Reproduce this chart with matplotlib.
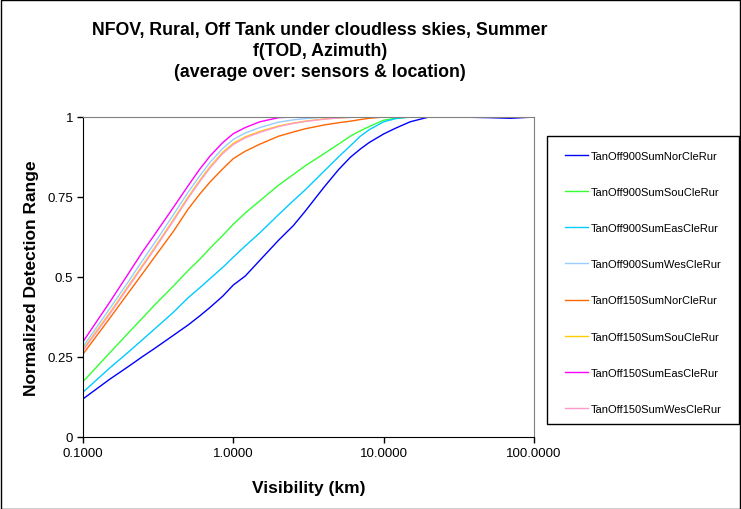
import matplotlib
matplotlib.use("Agg")
import matplotlib.pyplot as plt
import numpy as np
from matplotlib.patches import Rectangle
from matplotlib.ticker import FixedLocator, FixedFormatter

plt.rcParams['font.family'] = ['Liberation Sans', 'DejaVu Sans']

# visibility (km)
vis = [0.1, 0.15, 0.2, 0.25, 0.3, 0.4, 0.5, 0.6, 0.7, 0.85, 1, 1.2, 1.5, 2, 2.5,
       3, 4, 5, 6, 7, 8, 10, 12, 15, 20, 30, 50, 70, 100]

# normalized detection range per case
nor900 = [0.119, 0.18, 0.22, 0.252, 0.277, 0.318, 0.35, 0.379, 0.405, 0.44, 0.475, 0.503, 0.552, 0.615, 0.66,
          0.705, 0.78, 0.835, 0.874, 0.90, 0.92, 0.947, 0.965, 0.985, 1.0, 1.0, 0.998, 0.996, 1.0]
sou900 = [0.173, 0.262, 0.325, 0.373, 0.413, 0.472, 0.52, 0.556, 0.59, 0.63, 0.665, 0.70, 0.738, 0.787, 0.82,
          0.847, 0.885, 0.915, 0.94, 0.957, 0.97, 0.99, 0.996, 1.0, 1.0, 1.0, 1.0, 1.0, 1.0]
eas900 = [0.140, 0.215, 0.265, 0.305, 0.338, 0.39, 0.435, 0.467, 0.495, 0.53, 0.562, 0.597, 0.638, 0.695, 0.738,
          0.772, 0.83, 0.875, 0.91, 0.94, 0.96, 0.985, 0.995, 1.0, 1.0, 1.0, 1.0, 1.0, 1.0]
wes900 = [0.282, 0.40, 0.485, 0.553, 0.607, 0.695, 0.765, 0.817, 0.858, 0.902, 0.93, 0.95, 0.967, 0.984, 0.991,
          0.995, 0.999, 1.0, 1.0, 1.0, 1.0, 1.0, 1.0, 1.0, 1.0, 1.0, 1.0, 1.0, 1.0]
nor150 = [0.259, 0.37, 0.45, 0.512, 0.563, 0.643, 0.712, 0.76, 0.797, 0.838, 0.87, 0.893, 0.915, 0.94, 0.953,
          0.963, 0.975, 0.982, 0.987, 0.992, 0.996, 1.0, 1.0, 1.0, 1.0, 1.0, 1.0, 1.0, 1.0]
sou150 = [0.274, 0.387, 0.472, 0.538, 0.592, 0.68, 0.75, 0.803, 0.845, 0.89, 0.918, 0.938, 0.955, 0.972, 0.981,
          0.987, 0.994, 0.997, 0.999, 1.0, 1.0, 1.0, 1.0, 1.0, 1.0, 1.0, 1.0, 1.0, 1.0]
eas150 = [0.298, 0.42, 0.51, 0.58, 0.633, 0.718, 0.785, 0.838, 0.878, 0.92, 0.948, 0.967, 0.985, 0.998, 1.0,
          1.0, 1.0, 1.0, 1.0, 1.0, 1.0, 1.0, 1.0, 1.0, 1.0, 1.0, 1.0, 1.0, 1.0]
wes150 = [0.270, 0.383, 0.468, 0.534, 0.588, 0.676, 0.746, 0.799, 0.841, 0.886, 0.914, 0.935, 0.952, 0.97, 0.98,
          0.986, 0.993, 0.997, 0.999, 1.0, 1.0, 1.0, 1.0, 1.0, 1.0, 1.0, 1.0, 1.0, 1.0]

series = [
    ("TanOff900SumNorCleRur", nor900, "#0000FF"),
    ("TanOff900SumSouCleRur", sou900, "#33FF33"),
    ("TanOff900SumEasCleRur", eas900, "#00CCFF"),
    ("TanOff900SumWesCleRur", wes900, "#99CCFF"),
    ("TanOff150SumNorCleRur", nor150, "#FF6600"),
    ("TanOff150SumSouCleRur", sou150, "#FFCC00"),
    ("TanOff150SumEasCleRur", eas150, "#FF00FF"),
    ("TanOff150SumWesCleRur", wes150, "#FF99CC"),
]

fig = plt.figure(figsize=(7.41, 5.10), dpi=100)
ax = fig.add_axes([83/741, 72/510, 451/741, 320/510])

handles = []
for name, vals, col in series:
    h, = ax.plot(vis, vals, color=col, lw=1.0, label=name)
    handles.append(h)

ax.set_xscale('log')
ax.set_xlim(0.1, 100)
ax.set_ylim(0, 1)
ax.xaxis.set_major_locator(FixedLocator([0.1, 1, 10, 100]))
ax.xaxis.set_major_formatter(FixedFormatter(["0.1000", "1.0000", "10.0000", "100.0000"]))
ax.xaxis.set_minor_locator(FixedLocator([]))
ax.set_yticks([0, 0.25, 0.5, 0.75, 1])
ax.set_yticklabels(["0", "0.25", "0.5", "0.75", "1"])
ax.tick_params(axis='both', labelsize=9.5, length=4, width=1, direction='out', pad=3)

for s in ['left', 'bottom']:
    ax.spines[s].set_color('black')
for s in ['top', 'right']:
    ax.spines[s].set_color('#808080')

ax.set_xlabel("Visibility (km)", fontsize=12.5, fontweight='bold', labelpad=15)
ax.set_ylabel("Normalized Detection Range", fontsize=12.5, fontweight='bold', labelpad=6)

fig.text(320/741, 1 - 31/510, "NFOV, Rural, Off Tank under cloudless skies, Summer",
         ha='center', va='center', fontsize=12.75, fontweight='bold')
fig.text(320/741, 1 - 52/510, "f(TOD, Azimuth)",
         ha='center', va='center', fontsize=12.75, fontweight='bold')
fig.text(320/741, 1 - 73/510, "(average over: sensors & location)",
         ha='center', va='center', fontsize=12.75, fontweight='bold')

# legend box
fig.patches.append(Rectangle((547/741, 1 - 425/510), 192/741, 288/510,
                             transform=fig.transFigure, fill=False,
                             edgecolor='black', lw=1))
fig.legend(handles=handles, loc='upper left', bbox_to_anchor=(565/741, 1 - 152/510),
           frameon=False, fontsize=8, labelspacing=2.35, handlelength=2.1,
           handletextpad=0.25, borderpad=0, borderaxespad=0)

# outer chart border
fig.patches.append(Rectangle((0.5/741, 0.5/510), 739.5/741, 508.5/510,
                             transform=fig.transFigure, fill=False,
                             edgecolor='black', lw=1))

fig.savefig("out.png", dpi=100)
